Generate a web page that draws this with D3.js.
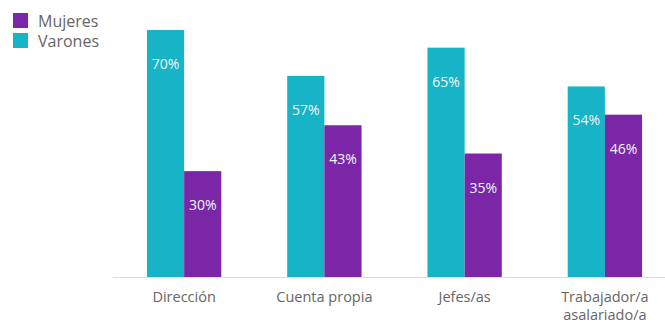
<!DOCTYPE html>
<html>
<head>
<meta charset="utf-8">
<script src="https://cdn.jsdelivr.net/npm/d3@7"></script>
<style>
  body { margin: 0; background: #fff; }
  text { font-family: "Open Sans", sans-serif; }
</style>
</head>
<body>
<div id="chart"></div>
<script>
// data
const categories = ["Dirección", "Cuenta propia", "Jefes/as", "Trabajador/a\nasalariado/a"];
const series = ["Varones", "Mujeres"];
const varones = [70, 57, 65, 54];
const mujeres = [30, 43, 35, 46];

const width = 665, height = 326;
const baseline = 277;

const svg = d3.select("#chart")
  .append("svg")
    .attr("width", width)
    .attr("height", height);

const colors = {Varones: "#17b3c7", Mujeres: "#7b26a6"};

// X scale
const x = d3.scaleBand()
  .domain(categories)
  .range([114, 675])
  .paddingInner(0.47)
  .paddingOuter(0.235);

const xs = d3.scaleBand()
  .domain(series)
  .range([0, x.bandwidth()]);

const y = d3.scaleLinear()
  .domain([0, 70])
  .range([baseline, 30]);

const rows = categories.map((c, i) => ({cat: c, Varones: varones[i], Mujeres: mujeres[i]}));

// baseline
svg.append("line")
  .attr("x1", 113).attr("x2", width)
  .attr("y1", baseline + 0.5).attr("y2", baseline + 0.5)
  .attr("stroke", "#ddd");

const g = svg.selectAll("g.grp")
  .data(rows)
  .join("g")
    .attr("transform", d => `translate(${x(d.cat)},0)`);

g.selectAll("rect")
  .data(d => series.map(s => ({s, v: d[s]})))
  .join("rect")
    .attr("x", d => xs(d.s))
    .attr("y", d => y(d.v))
    .attr("width", xs.bandwidth())
    .attr("height", d => baseline - y(d.v))
    .attr("fill", d => colors[d.s]);

g.selectAll("text.val")
  .data(d => series.map(s => ({s, v: d[s]})))
  .join("text")
    .attr("class", "val")
    .attr("x", d => xs(d.s) + xs.bandwidth() / 2)
    .attr("y", d => y(d.v) + 39)
    .attr("text-anchor", "middle")
    .attr("font-size", 14)
    .attr("fill", "#eef6f8")
    .text(d => d.v + "%");

// x axis labels
const xAxis = svg.append("g")
  .attr("transform", `translate(0,${baseline})`)
  .call(d3.axisBottom(x).tickSize(0).tickPadding(0));
xAxis.select(".domain").remove();
xAxis.selectAll(".tick text").each(function(d) {
  const t = d3.select(this).text(null)
    .attr("dy", null)
    .attr("y", null)
    .attr("font-size", 14.5)
    .attr("fill", "#666")
    .attr("font-family", "Open Sans, sans-serif");
  d.split("\n").forEach((line, i) => {
    t.append("tspan").attr("x", 0).attr("y", 25 + i * 18).text(line);
  });
});

// legend
const legend = svg.append("g");
[["Mujeres", 13], ["Varones", 33]].forEach(([s, yy]) => {
  legend.append("rect")
    .attr("x", 13).attr("y", yy)
    .attr("width", 15).attr("height", 15)
    .attr("fill", colors[s]);
  legend.append("text")
    .attr("x", 38).attr("y", yy + 14)
    .attr("font-size", 16)
    .attr("fill", "#666")
    .text(s);
});
</script>
</body>
</html>
